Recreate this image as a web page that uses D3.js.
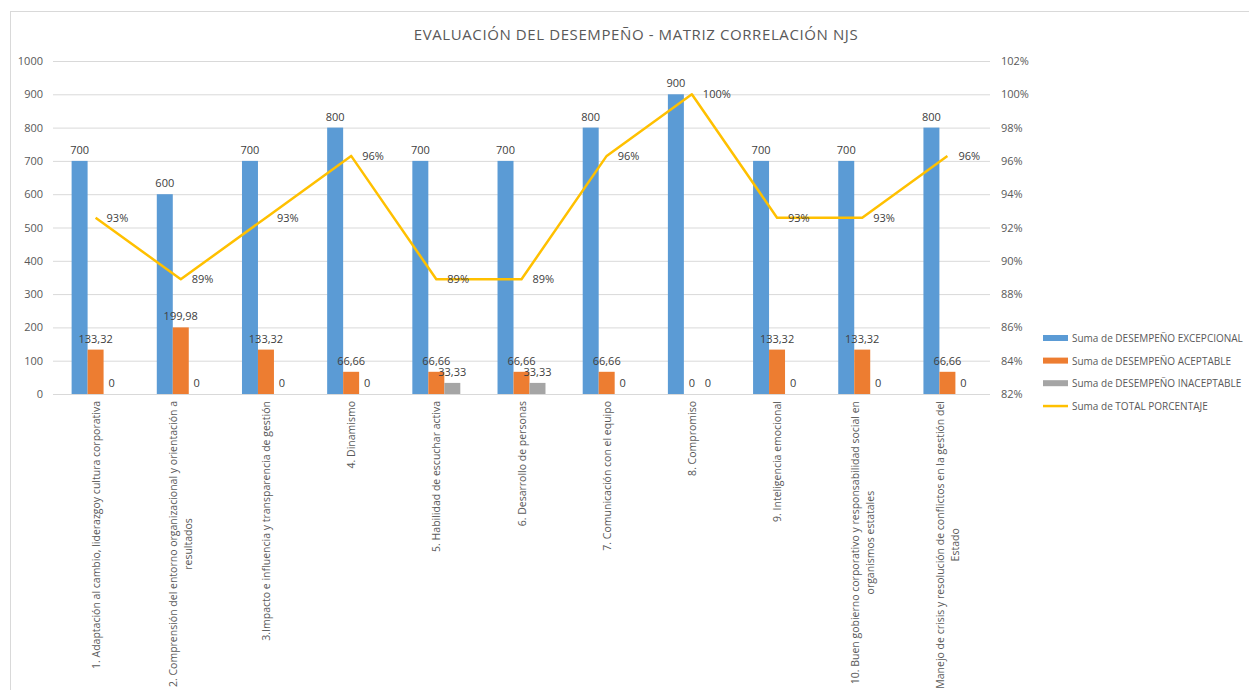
<!DOCTYPE html>
<html>
<head>
<meta charset="utf-8">
<script src="https://cdn.jsdelivr.net/npm/d3@7"></script>
<style>
  html, body { margin: 0; padding: 0; background: #fff; }
  svg text { font-family: "Open Sans", "Liberation Sans", sans-serif; }
</style>
</head>
<body>
<svg id="chart" width="1249" height="690"></svg>
<script>
// --- data ---
const categories = [
  ["1. Adaptación al cambio, liderazgoy cultura corporativa"],
  ["2. Comprensión del entorno organizacional y orientación a", "resultados"],
  ["3.Impacto e influencia y transparencia de gestión"],
  ["4. Dinamismo"],
  ["5. Habilidad de escuchar activa"],
  ["6. Desarrollo de personas"],
  ["7. Comunicación con el equipo"],
  ["8. Compromiso"],
  ["9. Inteligencia emocional"],
  ["10. Buen gobierno corporativo y responsabilidad social en", "organismos estatales"],
  ["Manejo de crisis y resolución de conflictos en la gestión del", "Estado"]
];
const excepcional = [700, 600, 700, 800, 700, 700, 800, 900, 700, 700, 800];
const aceptable   = [133.32, 199.98, 133.32, 66.66, 66.66, 66.66, 66.66, 0, 133.32, 133.32, 66.66];
const inaceptable = [0, 0, 0, 0, 33.33, 33.33, 0, 0, 0, 0, 0];
const totalPct    = [0.9259, 0.8889, 0.9259, 0.9630, 0.8889, 0.8889, 0.9630, 1.0, 0.9259, 0.9259, 0.9630];

const leftTicks  = [0, 100, 200, 300, 400, 500, 600, 700, 800, 900, 1000];
const rightTicks = [0.82, 0.84, 0.86, 0.88, 0.90, 0.92, 0.94, 0.96, 0.98, 1.00, 1.02];

const seriesNames = [
  "Suma de DESEMPEÑO EXCEPCIONAL",
  "Suma de DESEMPEÑO ACEPTABLE",
  "Suma de DESEMPEÑO INACEPTABLE",
  "Suma de TOTAL PORCENTAJE"
];
const colors = ["#5B9BD5", "#ED7D31", "#A5A5A5", "#FFC000"];
const title = "EVALUACIÓN DEL DESEMPEÑO - MATRIZ CORRELACIÓN NJS";

// --- layout ---
const plot = { left: 53, right: 990, top: 61, bottom: 394 };
const textColor = "#595959";

const svg = d3.select("#chart");

// outer chart border
svg.append("rect")
  .attr("x", 10.5).attr("y", 11.5)
  .attr("width", 1260).attr("height", 700)
  .attr("fill", "#fff")
  .attr("stroke", "#D9D9D9");

svg.append("text")
  .attr("x", 636).attr("y", 40)
  .attr("text-anchor", "middle")
  .style("font-size", "15px")
  .style("fill", textColor)
  .style("letter-spacing", "0.6px")
  .text(title);

const ids = categories.map((c, i) => i);
const x0 = d3.scaleBand().domain(ids).range([plot.left, plot.right])
  .paddingInner(0.437).paddingOuter(0.2185);
const x1 = d3.scaleBand().domain([0, 1, 2]).range([0, x0.bandwidth()]);
const yL = d3.scaleLinear().domain([0, 1000]).range([plot.bottom, plot.top]);
const yR = d3.scaleLinear().domain([0.82, 1.02]).range([plot.bottom, plot.top]);

// gridlines + left axis
const gL = svg.append("g")
  .attr("transform", `translate(${plot.left},0)`)
  .call(d3.axisLeft(yL).tickValues(leftTicks).tickFormat(d3.format("d"))
    .tickSize(-(plot.right - plot.left)).tickPadding(10));
gL.select(".domain").remove();
gL.selectAll(".tick line").attr("stroke", "#D9D9D9");
gL.selectAll(".tick text").style("font-size", "11px").style("fill", textColor)
  .style("font-family", "'Open Sans', sans-serif");

// right axis
const gR = svg.append("g")
  .attr("transform", `translate(${plot.right},0)`)
  .call(d3.axisRight(yR).tickValues(rightTicks).tickSize(0).tickPadding(11)
    .tickFormat(d3.format(".0%")));
gR.select(".domain").remove();
gR.selectAll(".tick text").style("font-size", "11px").style("fill", textColor)
  .style("font-family", "'Open Sans', sans-serif");

// bars
const barSeries = [excepcional, aceptable, inaceptable];
const fmtNum = v => String(v).replace(".", ",");

barSeries.forEach((vals, s) => {
  const g = svg.append("g");
  g.selectAll("rect")
    .data(vals)
    .enter()
    .append("rect")
    .attr("x", (d, i) => x0(i) + x1(s))
    .attr("width", x1.bandwidth())
    .attr("y", d => yL(d))
    .attr("height", d => yL(0) - yL(d))
    .attr("fill", colors[s]);

  g.selectAll("text")
    .data(vals)
    .enter()
    .append("text")
    .attr("x", (d, i) => x0(i) + x1(s) + x1.bandwidth() / 2)
    .attr("y", d => yL(d) - 7)
    .attr("text-anchor", "middle")
    .style("font-size", "11px")
    .style("fill", "#404040")
    .text(d => fmtNum(d));
});

// percentage line
const cx = i => x0(i) + x0.bandwidth() / 2;
const line = d3.line().x((d, i) => cx(i)).y(d => yR(d));
svg.append("path")
  .datum(totalPct)
  .attr("d", line)
  .attr("fill", "none")
  .attr("stroke", colors[3])
  .attr("stroke-width", 2.5)
  .attr("stroke-linejoin", "round");

svg.append("g").selectAll("text")
  .data(totalPct)
  .enter()
  .append("text")
  .attr("x", (d, i) => cx(i) + 11)
  .attr("y", d => yR(d) + 4)
  .style("font-size", "11px")
  .style("fill", "#404040")
  .text(d3.format(".0%"));

// category labels, rotated
const lineGap = 15;
const catG = svg.append("g").selectAll("g")
  .data(categories)
  .enter()
  .append("g")
  .attr("transform", (d, i) => `translate(${cx(i)},${plot.bottom + 7}) rotate(-90)`);

catG.each(function (lines) {
  const g = d3.select(this);
  const n = lines.length;
  // measure the longest line so wrapped lines centre on it
  const texts = lines.map((t, k) => g.append("text")
    .attr("y", (k - (n - 1) / 2) * lineGap + 4)
    .style("font-size", "10.5px")
    .style("fill", textColor)
    .text(t));
  const maxW = d3.max(texts, t => t.node().getComputedTextLength());
  texts.forEach(t => t.attr("text-anchor", "middle").attr("x", -maxW / 2));
});

// legend
const legend = svg.append("g").attr("transform", "translate(1043,338)");
const items = legend.selectAll("g")
  .data(seriesNames)
  .enter()
  .append("g")
  .attr("transform", (d, i) => `translate(0,${i * 22.6})`);

items.append("rect")
  .attr("x", 0)
  .attr("y", (d, i) => i === 3 ? -1 : -3)
  .attr("width", 25)
  .attr("height", (d, i) => i === 3 ? 2.5 : 6)
  .attr("fill", (d, i) => colors[i]);

items.append("text")
  .attr("x", 29)
  .attr("y", 4)
  .style("font-size", "10px")
  .style("fill", textColor)
  .text(d => d);
</script>
</body>
</html>
